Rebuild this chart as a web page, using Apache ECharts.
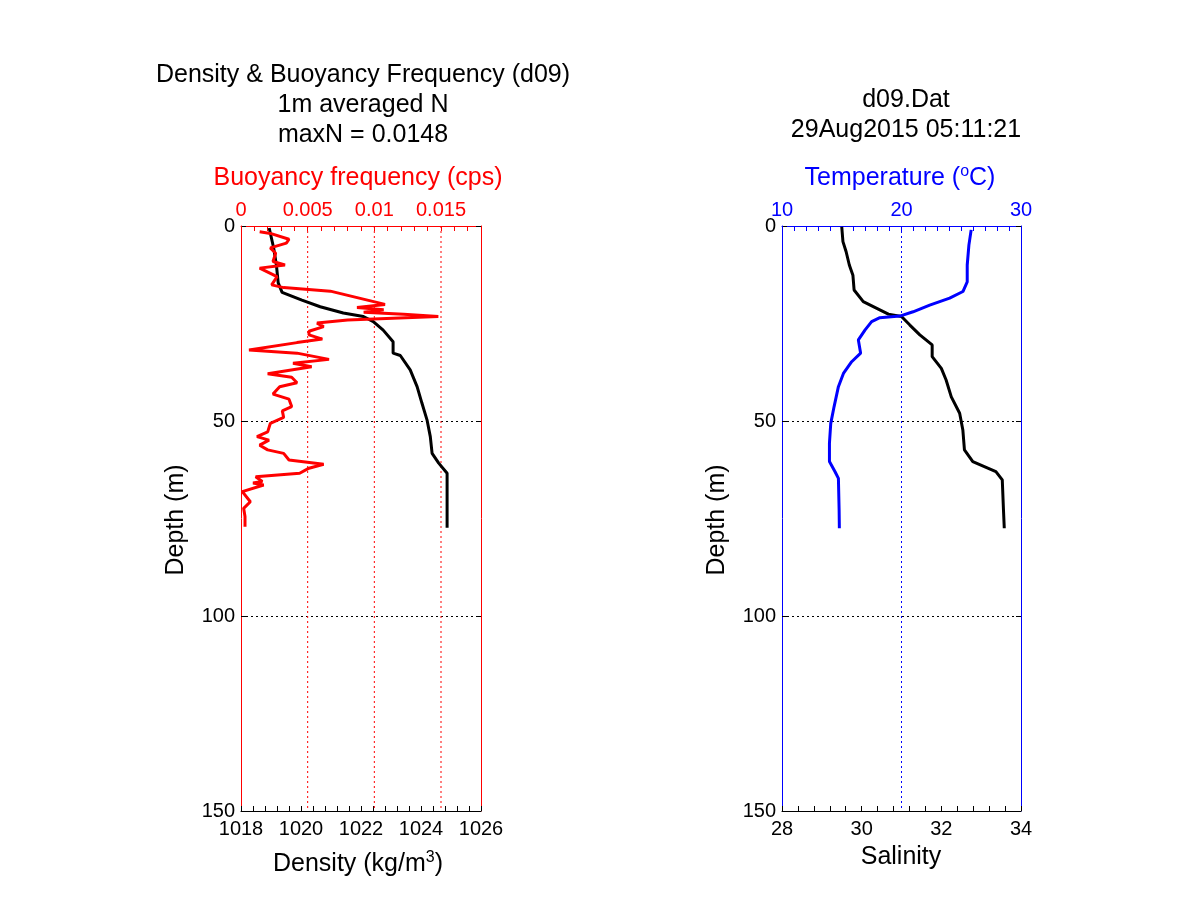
<!DOCTYPE html>
<html>
<head>
<meta charset="utf-8">
<script src="https://cdn.jsdelivr.net/npm/echarts@6/dist/echarts.min.js"></script>
<style>
html,body{margin:0;padding:0;background:#fff;}
#chart{width:1201px;height:901px;}
</style>
</head>
<body>
<div id="chart"></div>
<script>
// ---- Data ----
const densityDepth = [0.5, 5.7, 10, 14.6, 17, 19, 20.7, 22.3, 23.2, 24.5, 26.7, 29.7, 32.6, 33.2, 36.9, 41.2, 45.4, 49.7, 54, 58.3, 60.8, 63.4, 77.4];
const density = [1018.94, 1019.09, 1019.18, 1019.24, 1019.37, 1020.03, 1020.64, 1021.41, 1022.08, 1022.41, 1022.74, 1023.07, 1023.07, 1023.31, 1023.64, 1023.87, 1024.03, 1024.2, 1024.31, 1024.37, 1024.59, 1024.87, 1024.87];

const buoyDepth = [1.5,1.9,3.4,4.4,5.6,7,9.1,10,10.8,13,15.1,15.8,16.7,18.1,20.1,20.9,21.5,22.1,22.6,23.2,24.1,24.9,25.8,27,27.9,29,29.9,31.8,32.6,34.2,35.2,36.1,37.9,38.8,40.2,41.2,43.1,44.4,46.3,47.4,49.1,50.6,52.8,54,54.9,56.2,57.4,58.3,60,61.1,62.1,63.4,64.3,65.5,65.9,66.4,68.1,70.7,72.4,74.5,77.1];
const buoyancy = [0.0014,0.0022,0.0036,0.0034,0.0022,0.0026,0.0024,0.0033,0.0014,0.0027,0.0023,0.0032,0.0067,0.0084,0.0108,0.0087,0.0107,0.0092,0.0122,0.0148,0.0080,0.0057,0.0062,0.0051,0.0051,0.0061,0.0042,0.0006,0.0042,0.0066,0.0039,0.0053,0.0020,0.0038,0.0042,0.0029,0.0024,0.0036,0.0038,0.0031,0.0032,0.0022,0.0020,0.0012,0.0021,0.0014,0.0020,0.0032,0.0036,0.0062,0.0051,0.0044,0.0011,0.0016,0.0009,0.0017,0.0001,0.0007,0.0002,0.0003,0.0003];

const salinityDepth = [0.2,4,6.6,10,12.6,16.4,19.4,21.1,22.6,23.2,25.4,27.9,30.5,33.5,36.5,39.5,43.8,48,52.3,57.4,60.4,63,65.1,72.8,77.5];
const salinity = [29.5,29.53,29.61,29.69,29.78,29.81,30.04,30.38,30.67,31.0,31.21,31.46,31.77,31.77,32.0,32.12,32.25,32.46,32.54,32.58,32.79,33.37,33.53,33.56,33.58];

const tempDepth = [1,4.9,10,14.3,16.8,18.5,20.3,22,23.1,23.5,24.5,26.7,29.2,32.6,34.8,37.8,41.2,46.3,50.6,55.7,60.4,63,64.7,72.8,77.5];
const temperature = [25.83,25.64,25.5,25.5,25.14,24.03,22.36,20.97,19.86,18.19,17.5,16.94,16.39,16.58,15.83,15.14,14.72,14.36,14.08,13.97,13.97,14.44,14.72,14.78,14.8];

const depthRange = [0, 150];
const buoyTicks = [0,0.001,0.002,0.003,0.004,0.005,0.006,0.007,0.008,0.009,0.010,0.011,0.012,0.013,0.014,0.015,0.016,0.017,0.018];
const buoyGrid = [0.005, 0.010, 0.015];
const tempTicks = [10,11,12,13,14,15,16,17,18,19,20,21,22,23,24,25,26,27,28,29,30];
const tempGrid = [20];

const leftTitle = ['Density & Buoyancy Frequency (d09)', '1m averaged N', 'maxN = 0.0148'];
const rightTitle = ['d09.Dat', '29Aug2015 05:11:21'];

// ---- Helpers ----
const FONT = 'Liberation Sans, Arial, sans-serif';
function pairs(xs, ys) { return xs.map((x, i) => [x, ys[i]]); }

const RED = '#ff0000', BLUE = '#0000ff', BLACK = '#000000';

function depthAxis(gridIndex, pos, lineColor, showLabels) {
  return {
    gridIndex, type: 'value', position: pos, inverse: true,
    min: depthRange[0], max: depthRange[1], interval: 50,
    axisLine: { show: true, onZero: false, lineStyle: { color: lineColor, width: 1 } },
    axisTick: { show: true, inside: true, length: 5, lineStyle: { color: BLACK } },
    axisLabel: { show: showLabels, color: BLACK, fontSize: 20, fontFamily: FONT, margin: 6 },
    splitLine: { show: showLabels, showMinLine: false, showMaxLine: false,
      lineStyle: { color: BLACK, type: [2, 3], width: 1 } }
  };
}

// vertical dotted grid lines at the top-axis label values
function gridSeries(values, xAxisIndex, yAxisIndex, color) {
  return values.map(v => ({
    type: 'line', silent: true, xAxisIndex, yAxisIndex, z: 1,
    data: [[v, depthRange[0]], [v, depthRange[1]]],
    showSymbol: false, symbol: 'none',
    lineStyle: { color: color, width: 1, type: [2, 3] },
    emphasis: { disabled: true }, tooltip: { show: false }
  }));
}

const chart = echarts.init(document.getElementById('chart'), null, { renderer: 'canvas' });

const option = {
  animation: false,
  backgroundColor: '#ffffff',
  title: [
    { text: leftTitle.join('\n'), left: 358, top: 55, textAlign: 'center',
      textStyle: { fontSize: 25, fontWeight: 'normal', color: BLACK, fontFamily: FONT, lineHeight: 30 } },
    { text: rightTitle.join('\n'), left: 901, top: 80, textAlign: 'center',
      textStyle: { fontSize: 25, fontWeight: 'normal', color: BLACK, fontFamily: FONT, lineHeight: 30 } }
  ],
  grid: [
    { left: 241, top: 226, width: 240, height: 585, containLabel: false },
    { left: 782, top: 226, width: 239, height: 585, containLabel: false }
  ],
  xAxis: [
    // 0: density (bottom, left panel)
    { gridIndex: 0, type: 'value', position: 'bottom', min: 1018, max: 1026, interval: 2,
      axisLine: { show: true, onZero: false, lineStyle: { color: BLACK } },
      axisTick: { show: true, inside: true, length: 5, lineStyle: { color: BLACK } },
      minorTick: { show: true, splitNumber: 5, length: 5, lineStyle: { color: BLACK } },
      axisLabel: { color: BLACK, fontSize: 20, fontFamily: FONT, margin: 8, formatter: v => String(v) },
      splitLine: { show: false } },
    // 1: buoyancy (top, left panel)
    { gridIndex: 0, type: 'value', position: 'top', min: 0, max: 0.018, interval: 0.005,
      axisLine: { show: true, onZero: false, lineStyle: { color: RED } },
      axisTick: { show: true, inside: true, length: 5, customValues: buoyTicks, lineStyle: { color: RED } },
      axisLabel: { color: RED, fontSize: 20, fontFamily: FONT, margin: 6, showMaxLabel: false },
      splitLine: { show: false } },
    // 2: salinity (bottom, right panel)
    { gridIndex: 1, type: 'value', position: 'bottom', min: 28, max: 34, interval: 2,
      axisLine: { show: true, onZero: false, lineStyle: { color: BLACK } },
      axisTick: { show: true, inside: true, length: 5, lineStyle: { color: BLACK } },
      minorTick: { show: true, splitNumber: 5, length: 5, lineStyle: { color: BLACK } },
      axisLabel: { color: BLACK, fontSize: 20, fontFamily: FONT, margin: 8 },
      splitLine: { show: false } },
    // 3: temperature (top, right panel)
    { gridIndex: 1, type: 'value', position: 'top', min: 10, max: 30, interval: 10,
      axisLine: { show: true, onZero: false, lineStyle: { color: BLUE } },
      axisTick: { show: true, inside: true, length: 5, customValues: tempTicks, lineStyle: { color: BLUE } },
      axisLabel: { color: BLUE, fontSize: 20, fontFamily: FONT, margin: 6 },
      splitLine: { show: false } }
  ],
  yAxis: [
    depthAxis(0, 'left', RED, true),
    depthAxis(0, 'right', RED, false),
    depthAxis(1, 'left', BLUE, true),
    depthAxis(1, 'right', BLUE, false)
  ],
  series: [
    ...gridSeries(buoyGrid, 1, 0, RED),
    ...gridSeries(tempGrid, 3, 2, BLUE),
    { type: 'line', name: 'Density', xAxisIndex: 0, yAxisIndex: 0, data: pairs(density, densityDepth),
      showSymbol: false, symbol: 'none', lineStyle: { color: BLACK, width: 3 }, z: 3 },
    { type: 'line', name: 'Buoyancy', xAxisIndex: 1, yAxisIndex: 0, data: pairs(buoyancy, buoyDepth),
      showSymbol: false, symbol: 'none', lineStyle: { color: RED, width: 3 }, z: 4 },
    { type: 'line', name: 'Salinity', xAxisIndex: 2, yAxisIndex: 2, data: pairs(salinity, salinityDepth),
      showSymbol: false, symbol: 'none', lineStyle: { color: BLACK, width: 3 }, z: 3 },
    { type: 'line', name: 'Temperature', xAxisIndex: 3, yAxisIndex: 2, data: pairs(temperature, tempDepth),
      showSymbol: false, symbol: 'none', lineStyle: { color: BLUE, width: 3 }, z: 4 }
  ],
  graphic: [
    { type: 'text', x: 358, y: 178, style: { text: 'Buoyancy frequency (cps)', fill: RED, font: '25px ' + FONT, align: 'center', verticalAlign: 'middle' } },
    { type: 'text', x: 900, y: 178, style: { text: 'Temperature ({sup|o}C)', fill: BLUE, font: '25px ' + FONT, align: 'center', verticalAlign: 'middle',
      rich: { sup: { fontSize: 16, fill: BLUE, fontFamily: FONT, padding: [0, 0, 12, 0] } } } },
    { type: 'text', x: 358, y: 864, style: { text: 'Density (kg/m{sup|3})', fill: BLACK, font: '25px ' + FONT, align: 'center', verticalAlign: 'middle',
      rich: { sup: { fontSize: 16, fill: BLACK, fontFamily: FONT, padding: [0, 0, 12, 0] } } } },
    { type: 'text', x: 901, y: 857, style: { text: 'Salinity', fill: BLACK, font: '25px ' + FONT, align: 'center', verticalAlign: 'middle' } },
    { type: 'text', x: 176, y: 520, rotation: Math.PI / 2, style: { text: 'Depth (m)', fill: BLACK, font: '25px ' + FONT, align: 'center', verticalAlign: 'middle' } },
    { type: 'text', x: 717, y: 520, rotation: Math.PI / 2, style: { text: 'Depth (m)', fill: BLACK, font: '25px ' + FONT, align: 'center', verticalAlign: 'middle' } }
  ]
};
chart.setOption(option);
</script>
</body>
</html>
